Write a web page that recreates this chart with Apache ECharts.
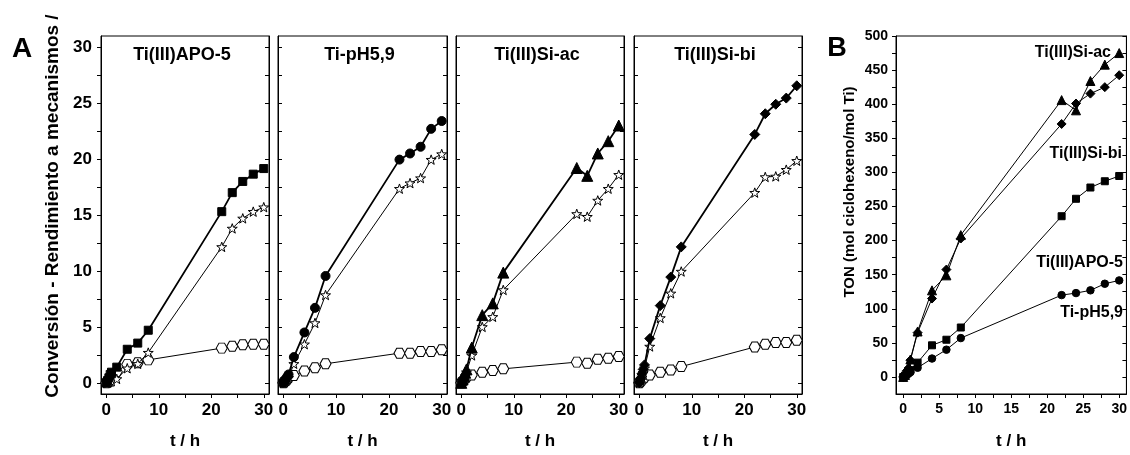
<!DOCTYPE html>
<html>
<head>
<meta charset="utf-8">
<script src="https://cdn.jsdelivr.net/npm/echarts@6.0.0/dist/echarts.min.js"></script>
<style>
  html, body { margin: 0; padding: 0; background: #fff; }
  #chart { width: 1130px; height: 455px; }
</style>
</head>
<body>
<div id="chart"></div>
<script>
// tiempos de reacción (h)
var tiempos = [0, 0.25, 0.5, 0.75, 1, 2, 4, 6, 8, 22, 24, 26, 28, 30];

// panel A: conversión y rendimientos (%)
var catalizadores = ['Ti(III)APO-5', 'Ti-pH5,9', 'Ti(III)Si-ac', 'Ti(III)Si-bi'];
var conversion = [
    [0, 0.2, 0.45, 0.75, 0.95, 1.4, 3.0, 3.55, 4.7, 15.3, 17.0, 18.0, 18.65, 19.15],
    [0, 0.15, 0.35, 0.55, 0.75, 2.3, 4.5, 6.7, 9.55, 19.95, 20.5, 21.1, 22.7, 23.4],
    [0, 0.3, 0.6, 0.9, 1.2, 3.15, 6.05, 7.1, 9.85, 19.2, 18.5, 20.5, 21.6, 23.0],
    [0, 0.4, 0.8, 1.2, 1.6, 3.95, 6.9, 9.45, 12.15, 22.2, 24.05, 24.9, 25.45, 26.55]
];
var rendEstrella = [
    [0, 0, 0.05, 0.1, 0.15, 0.35, 1.3, 1.7, 2.7, 12.15, 13.8, 14.7, 15.3, 15.7],
    [0, 0.05, 0.15, 0.3, 0.45, 1.7, 3.45, 5.35, 7.85, 17.35, 17.85, 18.3, 19.95, 20.45],
    [0, 0.15, 0.35, 0.6, 0.95, 2.45, 5.0, 5.9, 8.3, 15.1, 14.85, 16.3, 17.35, 18.6],
    [0, 0.2, 0.5, 0.9, 1.3, 3.25, 5.8, 8.0, 9.95, 17.0, 18.4, 18.45, 19.05, 19.85]
];
var rendHexagono = [
    [0, 0.1, 0.25, 0.4, 0.55, 1.0, 1.65, 1.8, 2.05, 3.1, 3.27, 3.4, 3.45, 3.45],
    [0, 0.1, 0.2, 0.35, 0.45, 0.65, 1.05, 1.35, 1.7, 2.65, 2.65, 2.8, 2.8, 2.95],
    [0, 0.1, 0.25, 0.4, 0.5, 0.7, 0.95, 1.1, 1.25, 1.85, 1.75, 2.1, 2.2, 2.35],
    [0, 0.1, 0.25, 0.4, 0.5, 0.7, 0.95, 1.15, 1.45, 3.2, 3.45, 3.6, 3.6, 3.8]
];

// panel B: TON (mol ciclohexeno/mol Ti)
var tonSiAc = [0, 3, 8, 12, 25.6, 66.7, 127, 149, 208, 406, 391, 434, 458, 475];
var tonSiBi = [0, 4, 9, 13, 24.6, 65, 115, 157.5, 203, 371, 401, 415.5, 425, 442.5];
var tonApo5 = [0, 2, 5, 8, 10, 21, 46.4, 54.6, 72.5, 235.7, 261.3, 277.8, 287, 294.7];
var tonPh59 = [0, 1.5, 3, 5, 7, 13.5, 27, 40, 57, 120, 123, 127, 136.7, 141.6];

// ticks (marcas con etiqueta y marcas intermedias)
var etiquetasXA = [0, 10, 20, 30];
var marcasXA = [0, 5, 10, 15, 20, 25, 30];
var etiquetasYA = [0, 5, 10, 15, 20, 25, 30];
var marcasYA = [0, 2.5, 5, 7.5, 10, 12.5, 15, 17.5, 20, 22.5, 25, 27.5, 30];
var etiquetasXB = [0, 5, 10, 15, 20, 25, 30];
var marcasXB = [0, 2.5, 5, 7.5, 10, 12.5, 15, 17.5, 20, 22.5, 25, 27.5, 30];
var etiquetasYB = [0, 50, 100, 150, 200, 250, 300, 350, 400, 450, 500];
var marcasYB = [0, 25, 50, 75, 100, 125, 150, 175, 200, 225, 250, 275, 300, 325, 350, 375, 400, 425, 450, 475, 500];

var FONT = '"Liberation Sans", Arial, sans-serif';
var STAR = 'path://M50,0L61.76,33.82L97.55,34.55L69.02,56.18L79.39,90.45L50,70L20.61,90.45L30.98,56.18L2.45,34.55L38.24,33.82Z';
var HEX = 'path://M0,43.3L25,0L75,0L100,43.3L75,86.6L25,86.6Z';
var simbolos = ['rect', 'circle', 'triangle', 'diamond'];
var tamSimbolo = [8, 9, 11, 10];

function pares(vals) {
    return tiempos.map(function (x, i) { return [x, vals[i]]; });
}

var chart = echarts.init(document.getElementById('chart'));

var grids = [], xAxes = [], yAxes = [], series = [], graphics = [];
var panelesA = [
    {left: 101, width: 168},
    {left: 278, width: 169},
    {left: 456, width: 168},
    {left: 634, width: 168}
];

function ejeX(g, marcas, etiquetas, labelSize) {
    var ix = xAxes.length;
    xAxes.push({
        gridIndex: g, type: 'value', min: -1, max: 31, position: 'bottom',
        axisLine: {show: true, onZero: false, lineStyle: {color: '#000', width: 1}},
        axisTick: {show: true, customValues: marcas, length: 4, lineStyle: {color: '#000'}},
        axisLabel: {customValues: etiquetas, margin: 8, color: '#000', fontFamily: FONT, fontWeight: 'bold', fontSize: labelSize},
        splitLine: {show: false},
        name: 't / h', nameLocation: 'middle', nameGap: 39,
        nameTextStyle: {color: '#000', fontFamily: FONT, fontWeight: 'bold', fontSize: 17}
    });
    return ix;
}

function ejeY(g, min, max, marcas, etiquetas, conEtiquetas, labelSize, margin) {
    var iy = yAxes.length;
    yAxes.push({
        gridIndex: g, type: 'value', min: min, max: max, position: 'left',
        axisLine: {show: true, onZero: false, lineStyle: {color: '#000', width: 1}},
        axisTick: {show: true, customValues: marcas, length: 4, inside: !conEtiquetas, lineStyle: {color: '#000'}},
        axisLabel: {show: conEtiquetas, customValues: etiquetas, margin: margin, color: '#000', fontFamily: FONT, fontWeight: 'bold', fontSize: labelSize},
        splitLine: {show: false}
    });
    yAxes.push({
        gridIndex: g, type: 'value', min: min, max: max, position: 'right',
        axisLine: {show: true, onZero: false, lineStyle: {color: '#000', width: 1}},
        axisTick: {show: true, customValues: marcas, length: 4, inside: true, lineStyle: {color: '#000'}},
        axisLabel: {show: false}, splitLine: {show: false}
    });
    return iy;
}

// panel A
panelesA.forEach(function (p, i) {
    grids.push({left: p.left, top: 36, width: p.width, height: 362, show: true, borderColor: '#000', borderWidth: 1, backgroundColor: 'transparent'});
    var ix = ejeX(i, marcasXA, etiquetasXA, 17);
    var iy = ejeY(i, -1, 31, marcasYA, etiquetasYA, i === 0, 17, 9);

    series.push({
        type: 'line', name: catalizadores[i] + ' hex', xAxisIndex: ix, yAxisIndex: iy,
        data: pares(rendHexagono[i]), symbol: HEX, symbolSize: [11, 10],
        lineStyle: {color: '#000', width: 1},
        itemStyle: {color: '#fff', borderColor: '#000', borderWidth: 1}, z: 2
    });
    series.push({
        type: 'line', name: catalizadores[i] + ' star', xAxisIndex: ix, yAxisIndex: iy,
        data: pares(rendEstrella[i]), symbol: STAR, symbolSize: 10, symbolKeepAspect: true,
        lineStyle: {color: '#000', width: 1},
        itemStyle: {color: '#fff', borderColor: '#000', borderWidth: 1}, z: 3
    });
    series.push({
        type: 'line', name: catalizadores[i], xAxisIndex: ix, yAxisIndex: iy,
        data: pares(conversion[i]), symbol: simbolos[i], symbolSize: tamSimbolo[i],
        lineStyle: {color: '#000', width: 1.8},
        itemStyle: {color: '#000', borderColor: '#000'}, z: 4
    });

    graphics.push({
        type: 'text', x: p.left + p.width / 2 - 3, y: 55,
        style: {text: catalizadores[i], fill: '#000', font: 'bold 18px ' + FONT, align: 'center', verticalAlign: 'middle'}
    });
});

// panel B
grids.push({left: 896, top: 36, width: 231, height: 362, show: true, borderColor: '#000', borderWidth: 1, backgroundColor: 'transparent'});
var ixB = ejeX(4, marcasXB, etiquetasXB, 14);
var iyB = ejeY(4, -25, 500, marcasYB, etiquetasYB, true, 14, 8);

var seriesB = [
    {datos: tonSiAc, simbolo: 'triangle', tam: 9},
    {datos: tonSiBi, simbolo: 'diamond', tam: 9},
    {datos: tonApo5, simbolo: 'rect', tam: 7},
    {datos: tonPh59, simbolo: 'circle', tam: 7.5}
];
var nombresB = ['Ti(III)Si-ac', 'Ti(III)Si-bi', 'Ti(III)APO-5', 'Ti-pH5,9'];
seriesB.forEach(function (s, i) {
    series.push({
        type: 'line', name: 'B ' + nombresB[i], xAxisIndex: ixB, yAxisIndex: iyB,
        data: pares(s.datos), symbol: s.simbolo, symbolSize: s.tam,
        lineStyle: {color: '#000', width: 1},
        itemStyle: {color: '#000', borderColor: '#000'}
    });
});

var posEtiquetasB = [[1111, 53], [1122, 154], [1123, 263], [1123, 313]];
nombresB.forEach(function (n, i) {
    graphics.push({
        type: 'text', x: posEtiquetasB[i][0], y: posEtiquetasB[i][1],
        style: {text: n, fill: '#000', font: 'bold 16px ' + FONT, align: 'right', verticalAlign: 'middle'}
    });
});

graphics.push(
    {type: 'text', x: 22, y: 49, style: {text: 'A', fill: '#000', font: 'bold 28px ' + FONT, align: 'center', verticalAlign: 'middle'}},
    {type: 'text', x: 837, y: 49, style: {text: 'B', fill: '#000', font: 'bold 27px ' + FONT, align: 'center', verticalAlign: 'middle'}},
    {type: 'text', x: 53, y: 206, rotation: Math.PI / 2,
        style: {text: 'Conversión - Rendimiento a mecanismos /', fill: '#000', font: 'bold 19px ' + FONT, align: 'center', verticalAlign: 'middle'}},
    {type: 'text', x: 850, y: 192, rotation: Math.PI / 2,
        style: {text: 'TON (mol ciclohexeno/mol Ti)', fill: '#000', font: 'bold 15px ' + FONT, align: 'center', verticalAlign: 'middle'}}
);

chart.setOption({
    backgroundColor: '#fff',
    animation: false,
    grid: grids,
    xAxis: xAxes,
    yAxis: yAxes,
    series: series,
    graphic: graphics
});
</script>
</body>
</html>
